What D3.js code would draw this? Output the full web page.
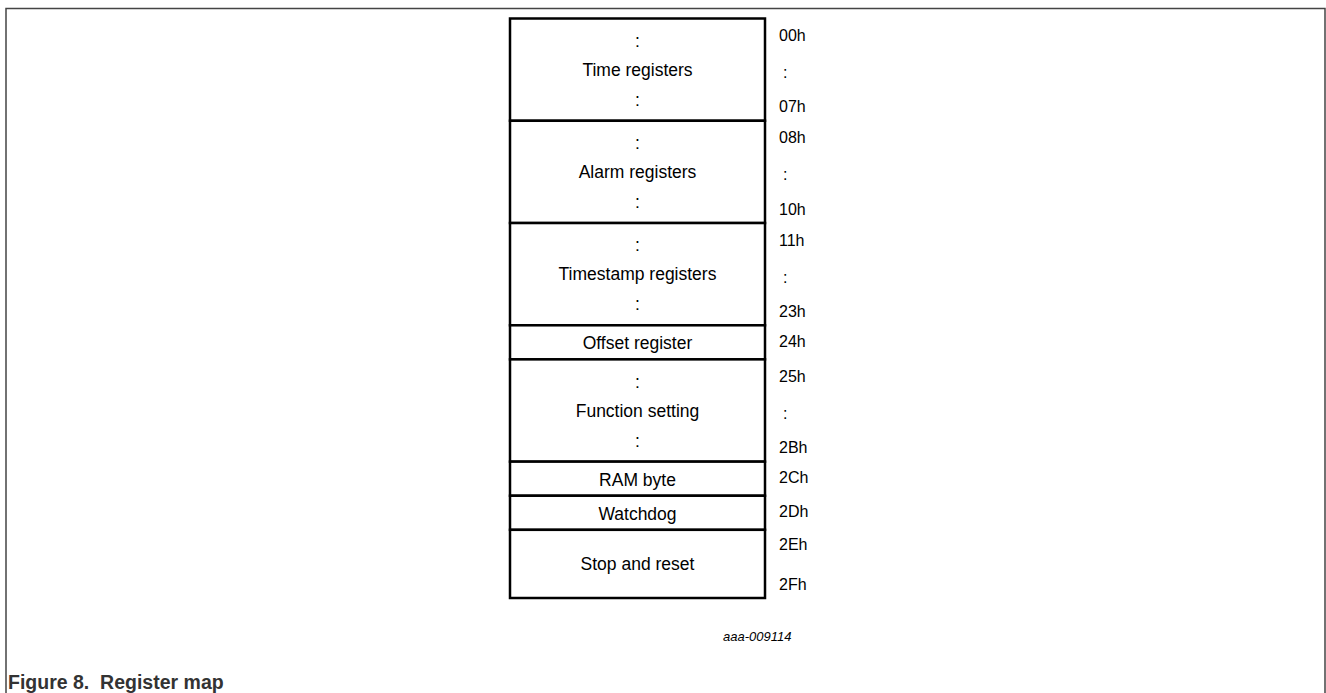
<!DOCTYPE html>
<html>
<head>
<meta charset="utf-8">
<script src="https://cdn.jsdelivr.net/npm/d3@7/dist/d3.min.js"></script>
<style>
  html, body { margin: 0; padding: 0; background: #fff; }
  svg { display: block; }
  text { font-family: "Liberation Sans", Arial, sans-serif; fill: #000; }
</style>
</head>
<body>
<svg id="chart" width="1326" height="693"></svg>
<script>
// ---- data ----
const blockNames = ["Time registers", "Alarm registers", "Timestamp registers", "Offset register",
                    "Function setting", "RAM byte", "Watchdog", "Stop and reset"];
const startAddr = ["00h", "08h", "11h", "24h", "25h", "2Ch", "2Dh", "2Eh"];
const endAddr   = ["07h", "10h", "23h", "24h", "2Bh", "2Ch", "2Dh", "2Fh"];
const rowSpan   = [3, 3, 3, 1, 3, 1, 1, 2];
const figureCode = "aaa-009114";
const caption = "Figure 8.  Register map";

// ---- build layout table ----
let acc = 0;
const blocks = blockNames.map((name, i) => {
  const b = { name, start: startAddr[i], end: endAddr[i], span: rowSpan[i], r0: acc };
  acc += rowSpan[i];
  return b;
});
const totalRows = acc;

const svg = d3.select("#chart");

// frame
svg.append("path")
  .attr("d", "M6,700 L6,8.5 L1325,8.5 L1325,700")
  .attr("fill", "none").attr("stroke", "#444").attr("stroke-width", 1.5);

const y = d3.scaleLinear().domain([0, totalRows]).range([18.5, 598]);
const x0 = 510, x1 = 765, cx = (x0 + x1) / 2, addrX = 779;
const fs = 17.5, fsA = 16;

const g = svg.append("g");
const bg = g.selectAll("g.block").data(blocks).join("g").attr("class", "block");

bg.append("rect")
  .attr("x", x0).attr("width", x1 - x0)
  .attr("y", d => y(d.r0)).attr("height", d => y(d.r0 + d.span) - y(d.r0))
  .attr("fill", "#fff").attr("stroke", "#000").attr("stroke-width", 2.5);

const rowC = r => (y(r) + y(r + 1)) / 2;

bg.each(function(d) {
  const sel = d3.select(this);
  const inner = [];
  const addr = [];
  if (d.span === 3) {
    inner.push({ t: ":", yy: rowC(d.r0) + 5 });
    inner.push({ t: d.name, yy: rowC(d.r0 + 1) });
    inner.push({ t: ":", yy: rowC(d.r0 + 2) - 4 });
    addr.push({ t: d.start, yy: rowC(d.r0) });
    addr.push({ t: ":", yy: rowC(d.r0 + 1) + 3 });
    addr.push({ t: d.end, yy: rowC(d.r0 + 2) + 3 });
  } else if (d.span === 2) {
    inner.push({ t: d.name, yy: (y(d.r0) + y(d.r0 + 2)) / 2 });
    addr.push({ t: d.start, yy: rowC(d.r0) - 2 });
    addr.push({ t: d.end, yy: rowC(d.r0 + 1) + 3 });
  } else {
    inner.push({ t: d.name, yy: rowC(d.r0) + 1 });
    addr.push({ t: d.start, yy: rowC(d.r0) - 1 });
  }
  sel.selectAll("text.in").data(inner).join("text").attr("class", "in")
    .attr("x", cx).attr("y", e => e.yy).attr("dy", "0.35em")
    .attr("text-anchor", "middle").style("font-size", fs + "px").text(e => e.t);
  sel.selectAll("text.addr").data(addr).join("text").attr("class", "addr")
    .attr("x", e => e.t === ":" ? addrX + 4 : addrX).attr("y", e => e.yy).attr("dy", "0.35em")
    .style("font-size", fsA + "px").text(e => e.t);
});

svg.append("text").attr("x", 723).attr("y", 641)
  .style("font-size", "13px").style("font-style", "italic").text(figureCode);

svg.append("text").attr("x", 8).attr("y", 689)
  .style("font-size", "19.5px").style("font-weight", "bold").style("fill", "#333")
  .style("white-space", "pre").text(caption);
</script>
</body>
</html>
